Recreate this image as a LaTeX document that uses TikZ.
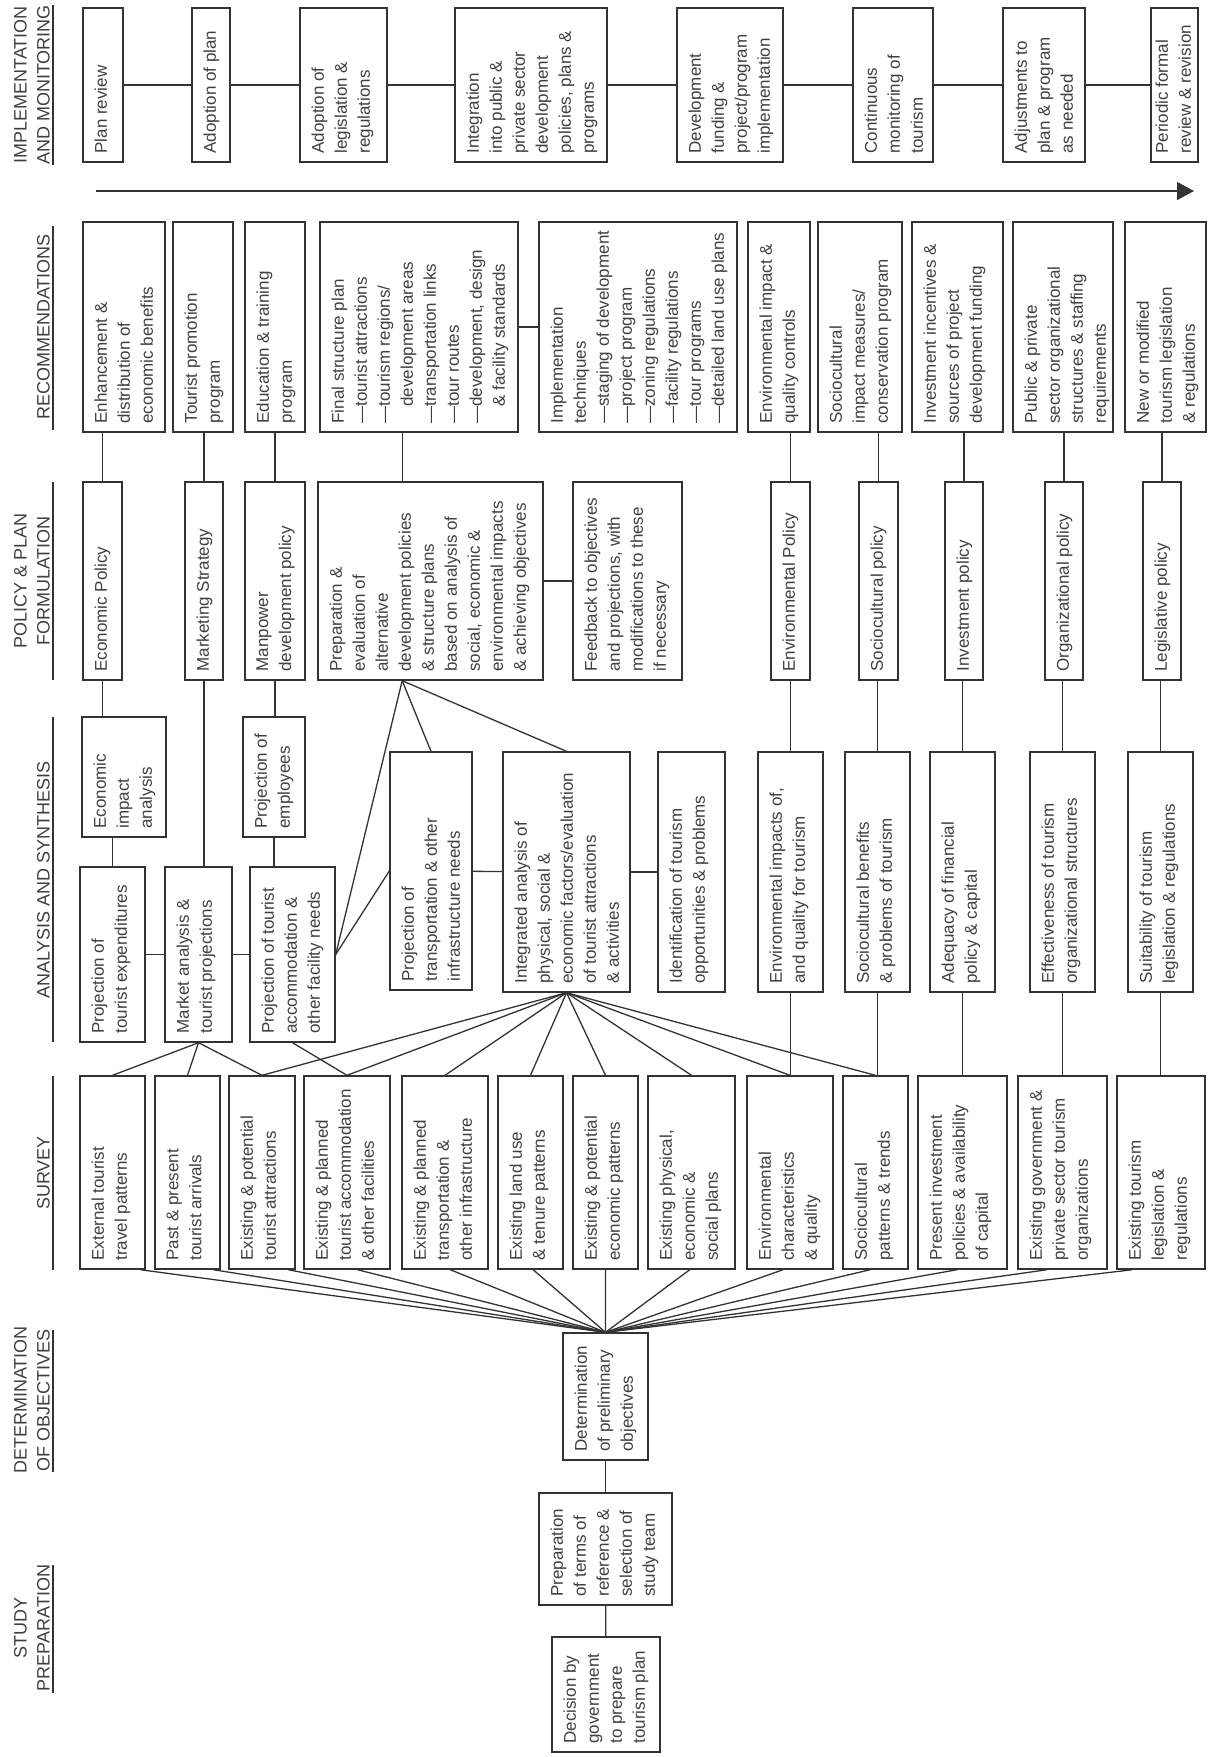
\documentclass[tikz,border=0pt]{standalone}
\usepackage{fontspec}
\setmainfont{Liberation Sans}
\usetikzlibrary{arrows.meta,calc,fit}

\begin{document}
\begin{tikzpicture}[x=1pt,y=-1pt]
  \tikzset{
    box/.style={draw=black!80, line width=1.4pt, inner sep=0pt},
    txt/.style={rotate=90, anchor=north west, align=left, inner xsep=9pt,
      inner ysep=12pt, text=black!75, font=\fontsize{17}{23}\selectfont},
    hdr/.style={rotate=90, anchor=south, align=center, inner sep=0pt,
      text=black!75, font=\fontsize{18}{23}\selectfont},
    link/.style={draw=black!80, line width=1.3pt},
  }
  \fill[white] (0,0) rectangle (1209,1757);
  \useasboundingbox (0,0) rectangle (1209,1757);

  % column heads
  \node[hdr] (hImpl) at (50,85) {IMPLEMENTATION\\AND MONITORING};
  \node[hdr] (hRec) at (50,327) {RECOMMENDATIONS};
  \node[hdr] (hPol) at (50,581) {POLICY \& PLAN\\FORMULATION};
  \node[hdr] (hAna) at (50,880) {ANALYSIS AND SYNTHESIS};
  \node[hdr] (hSur) at (50,1173) {SURVEY};
  \node[hdr] (hDet) at (50,1400) {DETERMINATION\\OF OBJECTIVES};
  \node[hdr] (hStu) at (50,1628) {STUDY\\PREPARATION};
  \draw[link] (53,5) -- (53,165);
  \draw[link] (53,226) -- (53,430);
  \draw[link] (53,482) -- (53,680);
  \draw[link] (53,717) -- (53,1042);
  \draw[link] (53,1076) -- (53,1270);
  \draw[link] (53,1330) -- (53,1472);
  \draw[link] (53,1565) -- (53,1693);

  % implementation and monitoring
  \node[box, fit={(83,8) (123,162)}] (i1) {};
  \node[txt] at (i1.south west) {Plan review};
  \node[box, fit={(192,8) (230,162)}] (i2) {};
  \node[txt] at (i2.south west) {Adoption of plan};
  \node[box, fit={(300,8) (387,162)}] (i3) {};
  \node[txt] at (i3.south west) {Adoption of\\legislation \&\\regulations};
  \node[box, fit={(455,8) (607,162)}] (i4) {};
  \node[txt] at (i4.south west) {Integration\\into public \&\\private sector\\development\\policies, plans \&\\programs};
  \node[box, fit={(677,8) (783,162)}] (i5) {};
  \node[txt] at (i5.south west) {Development\\funding \&\\project/program\\implementation};
  \node[box, fit={(853,8) (933,162)}] (i6) {};
  \node[txt] at (i6.south west) {Continuous\\monitoring of\\tourism};
  \node[box, fit={(1003,8) (1085,162)}] (i7) {};
  \node[txt] at (i7.south west) {Adjustments to\\plan \& program\\as needed};
  \node[box, fit={(1151,8) (1198,162)}] (i8) {};
  \node[txt, inner ysep=5pt] at (i8.south west) {Periodic formal\\review \& revision};
  \foreach \a/\b in {i1/i2, i2/i3, i3/i4, i4/i5, i5/i6, i6/i7, i7/i8}
    \draw[link] (\a) -- (\b);

  \coordinate (arrS) at (96,191);
  \coordinate (arrE) at (1194,191);
  \draw[link, -{Triangle[length=17pt,width=18pt]}] (arrS) -- (arrE);

  % recommendations
  \node[box, fit={(83,222) (165,432)}] (r1) {};
  \node[txt] at (r1.south west) {Enhancement \&\\distribution of\\economic benefits};
  \node[box, fit={(173,222) (233,432)}] (r2) {};
  \node[txt] at (r2.south west) {Tourist promotion\\program};
  \node[box, fit={(245,222) (305,432)}] (r3) {};
  \node[txt] at (r3.south west) {Education \& training\\program};
  \node[box, fit={(320,222) (518,432)}] (r4) {};
  \node[txt] at (r4.south west) {Final structure plan\\—tourist attractions\\—tourism regions/\\\hphantom{—}development areas\\—transportation links\\—tour routes\\—development, design\\\hphantom{—}\& facility standards};
  \node[box, fit={(539,222) (737,432)}] (r5) {};
  \node[txt] at (r5.south west) {Implementation\\techniques\\—staging of development\\—project program\\—zoning regulations\\—facility regulations\\—tour programs\\—detailed land use plans};
  \node[box, fit={(748,222) (810,432)}] (r6) {};
  \node[txt] at (r6.south west) {Environmental impact \&\\quality controls};
  \node[box, fit={(818,222) (902,432)}] (r7) {};
  \node[txt] at (r7.south west) {Sociocultural\\impact measures/\\conservation program};
  \node[box, fit={(912,222) (1003,432)}] (r8) {};
  \node[txt] at (r8.south west) {Investment incentives \&\\sources of project\\development funding};
  \node[box, fit={(1013,222) (1113,432)}] (r9) {};
  \node[txt] at (r9.south west) {Public \& private\\sector organizational\\structures \& staffing\\requirements};
  \node[box, fit={(1125,222) (1206,432)}] (r10) {};
  \node[txt] at (r10.south west) {New or modified\\tourism legislation\\\& regulations};
  \draw[link] (r4) -- (r5);

  % policy and plan formulation
  \node[box, fit={(83,482) (122,680)}] (p1) {};
  \node[txt] at (p1.south west) {Economic Policy};
  \node[box, fit={(185,482) (223,680)}] (p2) {};
  \node[txt] at (p2.south west) {Marketing Strategy};
  \node[box, fit={(245,482) (305,680)}] (p3) {};
  \node[txt] at (p3.south west) {Manpower\\development policy};
  \node[box, fit={(318,482) (543,680)}] (p4) {};
  \node[txt] at (p4.south west) {Preparation \&\\evaluation of\\alternative\\development policies\\\& structure plans\\based on analysis of\\social, economic \&\\environmental impacts\\\& achieving objectives};
  \node[box, fit={(573,482) (682,680)}] (p5) {};
  \node[txt] at (p5.south west) {Feedback to objectives\\and projections, with\\modifications to these\\if necessary};
  \node[box, fit={(771,482) (810,680)}] (p6) {};
  \node[txt] at (p6.south west) {Environmental Policy};
  \node[box, fit={(859,482) (898,680)}] (p7) {};
  \node[txt] at (p7.south west) {Sociocultural policy};
  \node[box, fit={(945,482) (983,680)}] (p8) {};
  \node[txt] at (p8.south west) {Investment policy};
  \node[box, fit={(1045,482) (1083,680)}] (p9) {};
  \node[txt] at (p9.south west) {Organizational policy};
  \node[box, fit={(1143,482) (1181,680)}] (p10) {};
  \node[txt] at (p10.south west) {Legislative policy};
  \draw[link] (p4) -- (p5);
  \coordinate (pp) at ($(p4.south west)!0.375!(p4.south east)$);
  \draw[link] (pp |- r4.south) -- (pp |- p4.north);
  \foreach \p/\r in {p1/r1, p2/r2, p3/r3, p6/r6, p7/r7, p8/r8, p9/r9, p10/r10}
    \draw[link] (\p.north) -- (\p.north |- \r.south);

  % analysis and synthesis
  \node[box, fit={(82,717) (166,837)}] (a1) {};
  \node[txt] at (a1.south west) {Economic\\impact\\analysis};
  \node[box, fit={(243,717) (305,837)}] (a2) {};
  \node[txt] at (a2.south west) {Projection of\\employees};
  \node[box, fit={(80,867) (145,1042)}] (a3) {};
  \node[txt] at (a3.south west) {Projection of\\tourist expenditures};
  \node[box, fit={(165,867) (232,1042)}] (a4) {};
  \node[txt] at (a4.south west) {Market analysis \&\\tourist projections};
  \node[box, fit={(250,867) (335,1042)}] (a5) {};
  \node[txt] at (a5.south west) {Projection of tourist\\accommodation \&\\other facility needs};
  \node[box, fit={(390,752) (472,990)}] (a6) {};
  \node[txt] at (a6.south west) {Projection of\\transportation \& other\\infrastructure needs};
  \node[box, fit={(503,752) (630,992)}] (a7) {};
  \node[txt] at (a7.south west) {Integrated analysis of\\physical, social \&\\economic factors/evaluation\\of tourist attractions\\\& activities};
  \node[box, fit={(658,752) (725,992)}] (a8) {};
  \node[txt] at (a8.south west) {Identification of tourism\\opportunities \& problems};
  \node[box, fit={(758,752) (823,992)}] (a9) {};
  \node[txt] at (a9.south west) {Environmental impacts of,\\and quality for tourism};
  \node[box, fit={(845,752) (910,992)}] (a10) {};
  \node[txt] at (a10.south west) {Sociocultural benefits\\\& problems of tourism};
  \node[box, fit={(930,752) (995,992)}] (a11) {};
  \node[txt] at (a11.south west) {Adequacy of financial\\policy \& capital};
  \node[box, fit={(1030,752) (1095,992)}] (a12) {};
  \node[txt] at (a12.south west) {Effectiveness of tourism\\organizational structures};
  \node[box, fit={(1128,752) (1193,992)}] (a13) {};
  \node[txt] at (a13.south west) {Suitability of tourism\\legislation \& regulations};
  \draw[link] (p1.south) -- (p1.south |- a1.north);
  \draw[link] (p2.south) -- (p2.south |- a4.north);
  \draw[link] (p3.south) -- (p3.south |- a2.north);
  \draw[link] (a3.north) -- (a3.north |- a1.south);
  \draw[link] (a2.south) -- (a2.south |- a5.north);
  \draw[link] (a3) -- (a4);
  \draw[link] (a4) -- (a5);
  \draw[link] (a6) -- (a7);
  \draw[link] (a7) -- (a8);
  \draw[link] (pp) -- (a5.east);
  \draw[link] (pp) -- (a6.north);
  \draw[link] (pp) -- (a7.north);
  \draw[link] (a6.west) -- (a5.east);
  \foreach \a/\p in {a9/p6, a10/p7, a11/p8, a12/p9, a13/p10}
    \draw[link] (\a.north) -- (\a.north |- \p.south);

  % survey
  \node[box, fit={(80,1076) (145,1269)}] (s1) {};
  \node[txt] at (s1.south west) {External tourist\\travel patterns};
  \node[box, fit={(155,1076) (220,1269)}] (s2) {};
  \node[txt] at (s2.south west) {Past \& present\\tourist arrivals};
  \node[box, fit={(229,1076) (295,1269)}] (s3) {};
  \node[txt] at (s3.south west) {Existing \& potential\\tourist attractions};
  \node[box, fit={(304,1076) (390,1269)}] (s4) {};
  \node[txt] at (s4.south west) {Existing \& planned\\tourist accommodation\\\& other facilities};
  \node[box, fit={(402,1076) (488,1269)}] (s5) {};
  \node[txt] at (s5.south west) {Existing \& planned\\transportation \&\\other infrastructure};
  \node[box, fit={(498,1076) (563,1269)}] (s6) {};
  \node[txt] at (s6.south west) {Existing land use\\\& tenure patterns};
  \node[box, fit={(573,1076) (638,1269)}] (s7) {};
  \node[txt] at (s7.south west) {Existing \& potential\\economic patterns};
  \node[box, fit={(648,1076) (735,1269)}] (s8) {};
  \node[txt] at (s8.south west) {Existing physical,\\economic \&\\social plans};
  \node[box, fit={(747,1076) (833,1269)}] (s9) {};
  \node[txt] at (s9.south west) {Environmental\\characteristics\\\& quality};
  \node[box, fit={(843,1076) (908,1269)}] (s10) {};
  \node[txt] at (s10.south west) {Sociocultural\\patterns \& trends};
  \node[box, fit={(918,1076) (1007,1269)}] (s11) {};
  \node[txt] at (s11.south west) {Present investment\\policies \& availability\\of capital};
  \node[box, fit={(1018,1076) (1107,1269)}] (s12) {};
  \node[txt] at (s12.south west) {Existing government \&\\private sector tourism\\organizations};
  \node[box, fit={(1117,1076) (1205,1269)}] (s13) {};
  \node[txt] at (s13.south west) {Existing tourism\\legislation \&\\regulations};
  \foreach \s in {s1, s2, s3}
    \draw[link] (a4.south) -- (\s.north);
  \draw[link] (a5.south) -- (s4.north);
  \foreach \s in {s3, s4, s5, s6, s7, s8, s9, s10}
    \draw[link] (a7.south) -- (\s.north);
  \foreach \a/\s in {a9/s9, a10/s10, a11/s11, a12/s12, a13/s13}
    \draw[link] (\a.south) -- (\a.south |- \s.north);

  % objectives and study preparation
  \node[box, fit={(563,1333) (648,1460)}] (d1) {};
  \node[txt] at (d1.south west) {Determination\\of preliminary\\objectives};
  \node[box, fit={(539,1493) (672,1605)}] (t1) {};
  \node[txt] at (t1.south west) {Preparation\\of terms of\\reference \&\\selection of\\study team};
  \node[box, fit={(552,1637) (660,1752)}] (t2) {};
  \node[txt] at (t2.south west) {Decision by\\government\\to prepare\\tourism plan};
  \draw[link] (t2) -- (t1);
  \draw[link] (t1) -- (d1);
  \foreach \s/\f in {s1/0.92, s2/0.89, s3/0.89, s4/0.62, s5/0.56, s6/0.54,
      s7/0.5, s8/0.48, s9/0.42, s10/0.42, s11/0.44, s12/0.33, s13/0.18}
    \draw[link] (d1.north) -- ($(\s.south west)!\f!(\s.south east)$);
\end{tikzpicture}
\end{document}
